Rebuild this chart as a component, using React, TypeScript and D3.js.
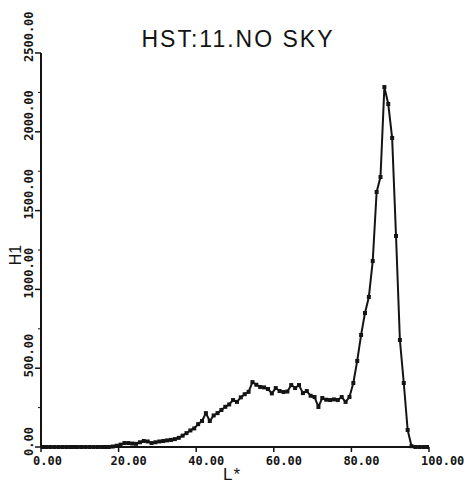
import React, { useEffect, useRef } from 'react';
import * as d3 from 'd3';

// histogram counts per L* bin (bin i covers i..i+1)
const counts = [
    0, 0, 0, 0, 0, 0, 0, 0, 0, 0,
    0, 0, 0, 0, 0, 0, 0, 0, 3, 8,
    15, 25, 25, 22, 20, 30, 38, 35, 25, 30,
    35, 38, 42, 45, 50, 58, 72, 88, 105, 118,
    145, 165, 215, 165, 200, 215, 235, 255, 270, 298,
    286, 315, 335, 350, 412, 395, 381, 378, 368, 340,
    374, 355, 349, 352, 393, 374, 393, 342, 355, 325,
    317, 254, 311, 300, 298, 302, 298, 317, 286, 317,
    406, 546, 711, 850, 952, 1180, 1618, 1713, 2284, 2176,
    1961, 1339, 679, 406, 108, 5, 0, 0, 0, 0,
];

const xTicks = [0, 20, 40, 60, 80, 100];
const yTicks = [0, 500, 1000, 1500, 2000, 2500];
const yMinor = [250, 750, 1250, 1750, 2250];

const title = 'HST:11.NO SKY';
const xTitle = 'L*';
const yTitle = 'H1';

const W = 467;
const H = 483;

const App = () => {
    const svgRef = useRef(null);

    useEffect(() => {
        const svg = d3.select(svgRef.current);
        svg.selectAll('*').remove();

        const x = d3.scaleLinear().domain([0, 100]).range([41, 429]);
        const y = d3.scaleLinear().domain([0, 2500]).range([447, 53]);

        const ink = '#141414';
        const mono = '"DejaVu Sans Mono", monospace';

        // title
        svg.append('text')
            .attr('x', 238)
            .attr('y', 47)
            .attr('text-anchor', 'middle')
            .attr('font-family', '"Liberation Sans", Arial, sans-serif')
            .attr('font-size', 23)
            .attr('letter-spacing', 2)
            .attr('fill', ink)
            .text(title);

        // axes lines
        svg.append('line')
            .attr('x1', x(0)).attr('x2', x(0))
            .attr('y1', y(2500)).attr('y2', y(0))
            .attr('stroke', ink).attr('stroke-width', 2);
        svg.append('line')
            .attr('x1', x(0)).attr('x2', x(100))
            .attr('y1', y(0)).attr('y2', y(0))
            .attr('stroke', ink).attr('stroke-width', 2);

        // y ticks
        svg.selectAll('.ytick')
            .data(yTicks)
            .enter()
            .append('line')
            .attr('x1', x(0) - 6).attr('x2', x(0))
            .attr('y1', d => y(d)).attr('y2', d => y(d))
            .attr('stroke', ink).attr('stroke-width', 1.5);
        svg.selectAll('.yminor')
            .data(yMinor)
            .enter()
            .append('line')
            .attr('x1', x(0) - 3).attr('x2', x(0))
            .attr('y1', d => y(d)).attr('y2', d => y(d))
            .attr('stroke', ink).attr('stroke-width', 1);

        svg.selectAll('.ylabel')
            .data(yTicks)
            .enter()
            .append('text')
            .attr('transform', d => `translate(33,${y(d) + 9}) rotate(-90)`)
            .attr('font-family', mono)
            .attr('font-weight', 'bold')
            .attr('font-size', 12)
            .attr('fill', ink)
            .text(d => d.toFixed(2));

        // x ticks
        svg.selectAll('.xtick')
            .data(xTicks)
            .enter()
            .append('line')
            .attr('x1', d => x(d)).attr('x2', d => x(d))
            .attr('y1', y(0)).attr('y2', y(0) + 5)
            .attr('stroke', ink).attr('stroke-width', 1.5);

        svg.selectAll('.xlabel')
            .data(xTicks)
            .enter()
            .append('text')
            .attr('x', d => x(d) - 8)
            .attr('y', 465)
            .attr('font-family', mono)
            .attr('font-weight', 'bold')
            .attr('font-size', 12)
            .attr('fill', ink)
            .text(d => d.toFixed(2));

        // axis titles
        svg.append('text')
            .attr('x', 223)
            .attr('y', 480)
            .attr('font-family', '"Liberation Sans", Arial, sans-serif')
            .attr('font-size', 17)
            .attr('letter-spacing', 1)
            .attr('fill', ink)
            .text(xTitle);
        svg.append('text')
            .attr('transform', 'translate(21,255) rotate(-90)')
            .attr('text-anchor', 'middle')
            .attr('font-family', '"Liberation Sans", Arial, sans-serif')
            .attr('font-size', 16)
            .attr('fill', ink)
            .text(yTitle);

        // histogram curve
        const pts = counts.map((v, i) => [i + 0.5, v]);
        const line = d3.line()
            .x(d => x(d[0]))
            .y(d => y(d[1]));

        svg.append('path')
            .datum(pts)
            .attr('d', line)
            .attr('fill', 'none')
            .attr('stroke', ink)
            .attr('stroke-width', 2)
            .attr('stroke-linejoin', 'round');

        svg.selectAll('.mark')
            .data(pts)
            .enter()
            .append('rect')
            .attr('x', d => x(d[0]) - 2)
            .attr('y', d => y(d[1]) - 2)
            .attr('width', 4)
            .attr('height', 4)
            .attr('fill', ink);
    }, []);

    return (
        <div style={{ position: 'absolute', left: 0, top: 0 }}>
            <svg ref={svgRef} width={W} height={H} style={{ display: 'block', background: '#fff' }}></svg>
        </div>
    );
};

export default App;
